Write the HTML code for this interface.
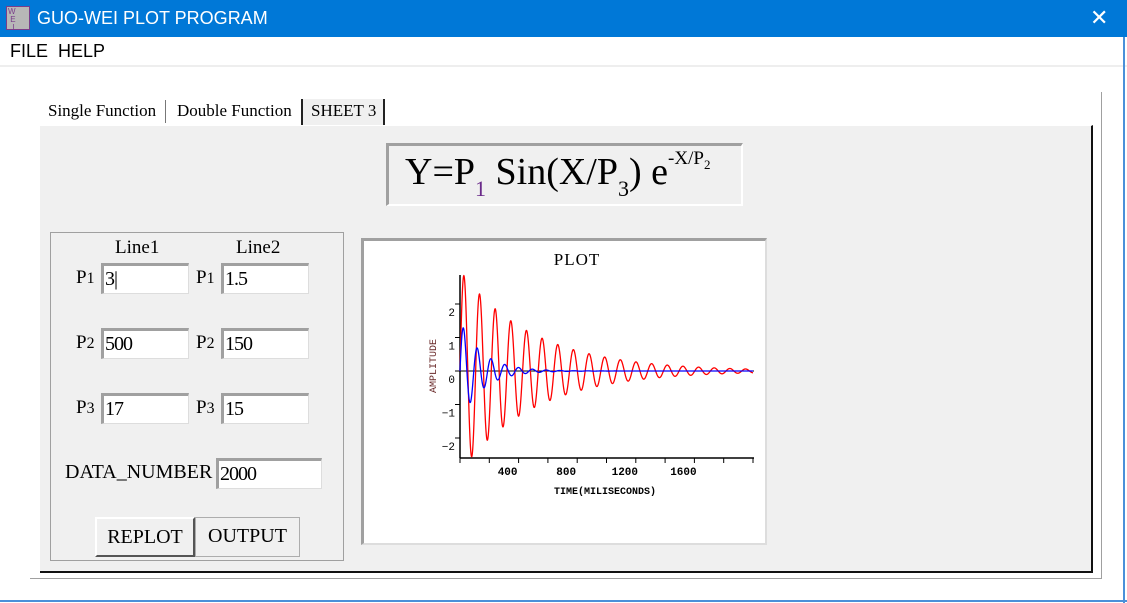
<!DOCTYPE html>
<html><head><meta charset="utf-8">
<style>
*{box-sizing:border-box;margin:0;padding:0}
body{width:1127px;height:603px;overflow:hidden;background:#fff;position:relative;font-family:"Liberation Serif",serif}
.abs{position:absolute}
.title{left:0;top:0;width:1127px;height:37px;background:#0078d7;color:#fff;font-family:"Liberation Sans",sans-serif;font-size:18px}
.menu{left:0;top:37px;width:1127px;height:28px;background:#fff;font-family:"Liberation Sans",sans-serif;font-size:18px}
.inp{position:absolute;background:#fff;border-top:3px solid #a0a0a0;border-left:3px solid #a0a0a0;border-right:1px solid #ddd;border-bottom:1px solid #ddd;font-size:20px;line-height:26px;padding-left:1px;height:31px;letter-spacing:-1px}
.lbl{position:absolute;font-size:19px}
.btn{position:absolute;background:#f0f0f0;border:1px solid #adadad;font-size:20px;text-align:center;line-height:36px}
</style></head><body>
<div class="abs title">
  <div class="abs" style="left:6px;top:6px;width:24px;height:24px;background:#b7b7b7;border:1px solid #7a3d8a;font-size:8px;color:#7a3d8a;line-height:8px;padding:1px">W<br>&nbsp;E<br>&nbsp;&nbsp;I</div>
  <div class="abs" style="left:37px;top:8px">GUO-WEI PLOT PROGRAM</div>
  <div class="abs" style="left:1090px;top:5px;font-size:22px">✕</div>
</div>
<div class="abs menu">
  <span class="abs" style="left:10px;top:4px">FILE</span>
  <span class="abs" style="left:58px;top:4px">HELP</span>
</div>
<div class="abs" style="left:0;top:65px;width:1127px;height:2px;background:#eee"></div>
<div class="abs" style="left:1123px;top:37px;width:2px;height:566px;background:#4a90d9"></div>
<div class="abs" style="left:0;top:600px;width:1127px;height:2px;background:#4a90d9"></div>
<div class="abs" style="left:30px;top:92px;width:1072px;height:487px;border-right:1px solid #a0a0a0;border-bottom:1px solid #a0a0a0"></div>
<div class="abs" style="left:48px;top:101px;font-size:17px">Single Function</div>
<div class="abs" style="left:165px;top:100px;width:1px;height:23px;background:#777"></div>
<div class="abs" style="left:177px;top:101px;font-size:17px">Double Function</div>
<div class="abs" style="left:301px;top:99px;width:84px;height:26px;background:#f0f0f0;border-left:2px solid #222;border-right:2px solid #222;font-size:17px;padding:2px 0 0 8px">SHEET 3</div>
<div class="abs" style="left:40px;top:125px;width:1053px;height:448px;background:#f0f0f0;border-right:2px solid #111;border-bottom:2px solid #111;border-top:1px solid #fff"></div>
<div class="abs" style="left:386px;top:143px;width:357px;height:63px;border-top:3px solid #a0a0a0;border-left:3px solid #a0a0a0;border-right:2px solid #fff;border-bottom:2px solid #fff;font-size:38px;white-space:nowrap;padding:2px 0 0 16px">Y=P<sub style="font-size:22px;color:#6a2a8a;vertical-align:-12px">1</sub> Sin(X/P<sub style="font-size:22px;vertical-align:-12px">3</sub>) e<sup style="font-size:19px;vertical-align:20px">-X/P<sub style="font-size:13px">2</sub></sup></div>
<div class="abs" style="left:50px;top:232px;width:294px;height:329px;border:1px solid #a0a0a0"></div>
<div class="lbl" style="left:115px;top:237px">Line1</div>
<div class="lbl" style="left:236px;top:237px">Line2</div>
<div class="lbl" style="left:76px;top:267px">P<small>1</small></div><div class="inp" style="left:101px;top:263px;width:88px">3|</div>
<div class="lbl" style="left:196px;top:267px">P<small>1</small></div><div class="inp" style="left:221px;top:263px;width:88px">1.5</div>
<div class="lbl" style="left:76px;top:332px">P<small>2</small></div><div class="inp" style="left:101px;top:328px;width:88px">500</div>
<div class="lbl" style="left:196px;top:332px">P<small>2</small></div><div class="inp" style="left:221px;top:328px;width:88px">150</div>
<div class="lbl" style="left:76px;top:397px">P<small>3</small></div><div class="inp" style="left:101px;top:393px;width:88px">17</div>
<div class="lbl" style="left:196px;top:397px">P<small>3</small></div><div class="inp" style="left:221px;top:393px;width:88px">15</div>
<div class="lbl" style="left:65px;top:461px;font-size:20px">DATA_NUMBER</div>
<div class="inp" style="left:216px;top:458px;width:106px">2000</div>
<div class="btn" style="left:95px;top:517px;width:100px;height:40px;border:2px solid #555;border-top-color:#fff;border-left-color:#fff">REPLOT</div>
<div class="btn" style="left:195px;top:517px;width:105px;height:40px">OUTPUT</div>
<div class="abs" style="left:361px;top:238px;width:406px;height:307px;background:#fff;border-top:3px solid #a0a0a0;border-left:3px solid #a0a0a0;border-right:2px solid #ddd;border-bottom:2px solid #ddd"></div>
<svg class="abs" style="left:0;top:0" width="1127" height="603" id="chart"></svg>
<script>
const params1 = [3, 500, 17];
const params2 = [1.5, 150, 15];
const dataNumber = 2000;
const xTicks = [400, 800, 1200, 1600];
const yTicks = [-2, -1, 0, 1, 2];
const ns = "http://www.w3.org/2000/svg";
const svg = document.getElementById('chart');
const X0 = 460, X1 = 753, XMAX = 2000, Y0 = 371, YU = 33.5;
const sx = v => X0 + v / XMAX * (X1 - X0);
const sy = v => Y0 - v * YU;
function mk(tag, attrs, txt) {
  const e = document.createElementNS(ns, tag);
  for (const k in attrs) e.setAttribute(k, attrs[k]);
  if (txt !== undefined) e.textContent = txt;
  svg.appendChild(e);
  return e;
}
const f = 'font-family:"Liberation Mono",monospace';
let t = mk('text', {x: 577, y: 265, 'text-anchor': 'middle', style: 'font-family:"Liberation Serif",serif;font-size:17px;letter-spacing:1px'}, 'PLOT');


let ya = mk('line', {x1: X0, y1: 275, x2: X0, y2: 458, stroke: '#000', 'stroke-width': 1.5});


let xa = mk('line', {x1: X0, y1: 458, x2: X1 + 1, y2: 458, stroke: '#000', 'stroke-width': 1.5});


for (let v = 0; v <= XMAX; v += 200) mk('line', {x1: sx(v), y1: 458, x2: sx(v), y2: 463, stroke: '#000'});
xTicks.forEach(v => {
  const e = mk('text', {x: sx(v) - 11, y: 475, 'text-anchor': 'middle', style: f + ';font-size:11px;font-weight:bold'}, String(v));
  
  
});
yTicks.forEach(v => {
  mk('line', {x1: X0 - 5, y1: sy(v), x2: X0, y2: sy(v), stroke: '#000'});
  const e = mk('text', {x: 455, y: sy(v) + 12, 'text-anchor': 'end', style: f + ';font-size:11px'}, String(v).replace('-', '−'));
  
  
});
let xt = mk('text', {x: 605, y: 494, 'text-anchor': 'middle', style: f + ';font-size:10px;font-weight:bold'}, 'TIME(MILISECONDS)');


let yt = mk('text', {x: 0, y: 0, 'text-anchor': 'middle', transform: 'translate(436,366) rotate(-90)', style: f + ';font-size:10px;fill:#6a2a2a'}, 'AMPLITUDE');


let zl = mk('line', {x1: X0, y1: Y0, x2: X1 + 1, y2: Y0, stroke: '#000', 'stroke-width': 1});


function series(p, color, name) {
  const pts = [];
  for (let i = 0; i <= dataNumber; i++) {
    const x = i * XMAX / dataNumber;
    const y = p[0] * Math.sin(x / p[2]) * Math.exp(-x / p[1]);
    pts.push(sx(x).toFixed(2) + ',' + sy(y).toFixed(2));
  }
  const e = mk('polyline', {points: pts.join(' '), fill: 'none', stroke: color, 'stroke-width': 1.3});
  
  
}
series(params1, '#ff0000', 'line1-series');
series(params2, '#0000ff', 'line2-series');
</script>
</body></html>
